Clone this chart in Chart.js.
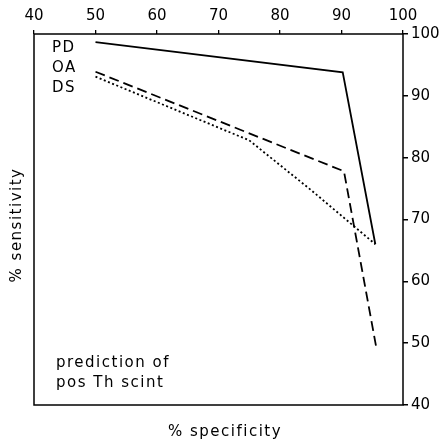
<!doctype html>
<html lang="en">
<head>
<meta charset="UTF-8">
<title>prediction of pos Th scint</title>
<script src="https://cdn.jsdelivr.net/npm/chart.js"></script>
<style>
  body { margin: 0; background: #fff; }
  #wrap { width: 446px; height: 445px; }
</style>
</head>
<body>
<div id="wrap"><canvas id="roc" width="446" height="445"></canvas></div>
<script>
  // values
  const xTicks = [40, 50, 60, 70, 80, 90, 100];
  const yTicks = [40, 50, 60, 70, 80, 90, 100];
  const seriesNames = ['PD', 'OA', 'DS'];
  const specPD = [50, 90.2, 95.5];
  const sensPD = [98.7, 93.8, 66];
  const specOA = [50, 90.4, 95.6];
  const sensOA = [93.9, 77.8, 49.6];
  const specDS = [50, 75, 85, 95.5];
  const sensDS = [93.1, 82.8, 74.8, 66];
  const noteLines = ['prediction of', 'pos Th scint'];

  const FONT = '"DejaVu Sans", sans-serif';

  function pts(xs, ys) {
    return xs.map((x, i) => ({ x: x, y: ys[i] }));
  }

  // box, legend words and axis titles
  const decorations = {
    id: 'decorations',
    afterDraw(chart) {
      const ctx = chart.ctx;
      const a = chart.chartArea;
      ctx.save();
      ctx.strokeStyle = '#000';
      ctx.lineWidth = 1.5;
      ctx.strokeRect(a.left, a.top, a.right - a.left, a.bottom - a.top);

      ctx.fillStyle = '#000';
      ctx.font = '15px ' + FONT;
      ctx.letterSpacing = '1.5px';
      ctx.textBaseline = 'middle';
      ctx.textAlign = 'left';
      seriesNames.forEach((n, i) => ctx.fillText(n, a.left + 18, 48 + i * 20));
      noteLines.forEach((t, i) => ctx.fillText(t, a.left + 22, 363 + i * 20));

      ctx.textAlign = 'center';
      ctx.fillText('% specificity', 225, 432);
      ctx.translate(17, 225);
      ctx.rotate(-Math.PI / 2);
      ctx.fillText('% sensitivity', 0, 0);
      ctx.restore();
    }
  };

  const ctx = document.getElementById('roc').getContext('2d');
  new Chart(ctx, {
    type: 'scatter',
    data: {
      datasets: [
        { label: 'PD', data: pts(specPD, sensPD), borderColor: '#000', borderWidth: 1.8 },
        { label: 'OA', data: pts(specOA, sensOA), borderColor: '#000', borderWidth: 1.8, borderDash: [10, 5] },
        { label: 'DS', data: pts(specDS, sensDS), borderColor: '#000', borderWidth: 1.8, borderDash: [2, 2.5] }
      ]
    },
    options: {
      responsive: false,
      animation: false,
      showLine: true,
      elements: { point: { radius: 0 }, line: { tension: 0 } },
      layout: { padding: { left: 34, bottom: 40, top: 0, right: 0 } },
      plugins: { legend: { display: false }, tooltip: { enabled: false } },
      scales: {
        x: {
          type: 'linear',
          position: 'top',
          min: 40,
          max: 100,
          afterBuildTicks: s => { s.ticks = xTicks.map(v => ({ value: v })); },
          afterFit: s => { s.height = 34; },
          border: { display: false },
          grid: { drawOnChartArea: false, drawTicks: true, tickLength: 4, color: '#000', lineWidth: 1.3 },
          ticks: { color: '#000', font: { family: FONT, size: 15 }, padding: 5, maxRotation: 0 }
        },
        y: {
          type: 'linear',
          position: 'right',
          min: 40,
          max: 100,
          afterBuildTicks: s => { s.ticks = yTicks.map(v => ({ value: v })); },
          afterFit: s => { s.width = 43; },
          border: { display: false },
          grid: { drawOnChartArea: false, drawTicks: true, tickLength: 5, color: '#000', lineWidth: 1.5 },
          ticks: { color: '#000', font: { family: FONT, size: 15 }, padding: 3 }
        }
      }
    },
    plugins: [decorations]
  });
</script>
</body>
</html>
